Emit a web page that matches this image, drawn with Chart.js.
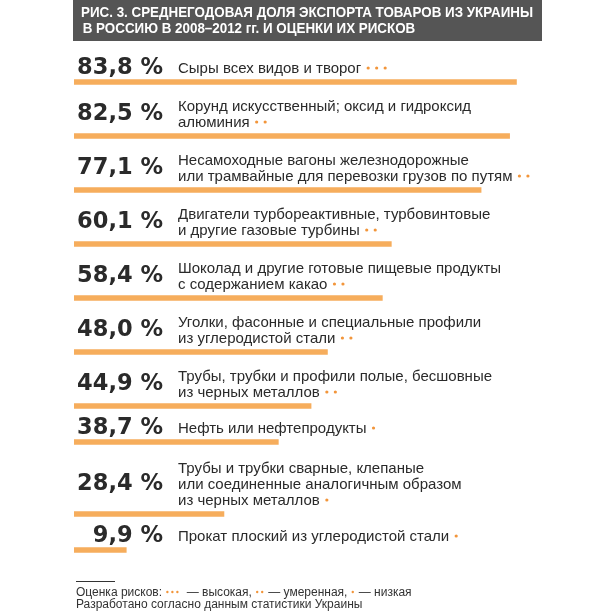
<!DOCTYPE html>
<html>
<head>
<meta charset="utf-8">
<script src="https://cdn.jsdelivr.net/npm/chart.js@4.4.0/dist/chart.umd.min.js"></script>
<style>
html,body{margin:0;padding:0;background:#fff;}
canvas{display:block;}
</style>
</head>
<body>
<canvas id="c" width="614" height="614"></canvas>
<script>
// ---- data ----
const titleLines = [
  'РИС. 3. СРЕДНЕГОДОВАЯ ДОЛЯ ЭКСПОРТА ТОВАРОВ ИЗ УКРАИНЫ',
  ' В РОССИЮ В 2008–2012 гг. И ОЦЕНКИ ИХ РИСКОВ'
];
const values = [83.8, 82.5, 77.1, 60.1, 58.4, 48.0, 44.9, 38.7, 28.4, 9.9];
const categories = [
  ['Сыры всех видов и творог'],
  ['Корунд искусственный; оксид и гидроксид', 'алюминия'],
  ['Несамоходные вагоны железнодорожные', 'или трамвайные для перевозки грузов по путям'],
  ['Двигатели турбореактивные, турбовинтовые', 'и другие газовые турбины'],
  ['Шоколад и другие готовые пищевые продукты', 'с содержанием какао'],
  ['Уголки, фасонные и специальные профили', 'из углеродистой стали'],
  ['Трубы, трубки и профили полые, бесшовные', 'из черных металлов'],
  ['Нефть или нефтепродукты'],
  ['Трубы и трубки сварные, клепаные', 'или соединенные аналогичным образом', 'из черных металлов'],
  ['Прокат плоский из углеродистой стали']
];
const riskLevels = [3, 2, 2, 2, 2, 2, 2, 1, 1, 1];
const legendPrefix = 'Оценка рисков:';
const legendDots = [3, 2, 1];
const legendLabels = ['высокая,', 'умеренная,', 'низкая'];
const sourceNote = 'Разработано согласно данным статистики Украины';

// ---- derived ----
// row position on a linear index axis: each row takes (its text lines + 1) units
const rowPos = [];
let acc = 0;
categories.forEach(lines => { acc += lines.length + 1; rowPos.push(acc); });
const fmt = v => v.toFixed(1).replace('.', ',') + ' %';

const ORANGE_BAR = '#f6ad5c';
const ORANGE_DOT = '#f2953a';
const TEXT = '#2a2a2a';
const LABEL_FONT = '15px "Liberation Sans", Arial, sans-serif';
const NUM_FONT = 'bold 22.5px "DejaVu Sans", sans-serif';

function dots(ctx, x, y, n, gap, r) {
  ctx.fillStyle = ORANGE_DOT;
  for (let k = 0; k < n; k++) {
    ctx.beginPath();
    ctx.arc(x + k * gap, y, r, 0, Math.PI * 2);
    ctx.fill();
  }
  return x + (n - 1) * gap;
}

const textPlugin = {
  id: 'texts',
  afterDatasetsDraw(chart) {
    const ctx = chart.ctx;
    const meta = chart.getDatasetMeta(0);
    const left = chart.chartArea.left;
    ctx.save();
    // title box
    ctx.fillStyle = '#555555';
    ctx.fillRect(left - 1, 0, 469, 41);
    ctx.fillStyle = '#ffffff';
    ctx.font = 'bold 15px "Liberation Sans", Arial, sans-serif';
    ctx.textAlign = 'left';
    ctx.textBaseline = 'alphabetic';
    ctx.fillText(titleLines[0], left + 7, 17, 452);
    ctx.fillText(titleLines[1], left + 5, 33, 452 * ctx.measureText(titleLines[1]).width / ctx.measureText(titleLines[0]).width);

    meta.data.forEach((bar, i) => {
      const lines = categories[i];
      const n = lines.length;
      const lastBase = bar.y - 9;
      const lh = 16;
      // number
      ctx.fillStyle = TEXT;
      ctx.font = NUM_FONT;
      ctx.textAlign = 'right';
      ctx.fillText(fmt(values[i]), left + 89, bar.y - 8 - 8 * (n - 1));
      // label
      ctx.font = LABEL_FONT;
      ctx.textAlign = 'left';
      lines.forEach((ln, j) => {
        ctx.fillStyle = TEXT;
        ctx.fillText(ln, left + 104, lastBase - (n - 1 - j) * lh);
      });
      const w = ctx.measureText(lines[n - 1]).width;
      dots(ctx, left + 104 + w + 7, lastBase - 5, riskLevels[i], 8.5, 1.6);
    });

    // footer
    ctx.strokeStyle = '#333';
    ctx.lineWidth = 1;
    ctx.beginPath();
    ctx.moveTo(left + 2, 581.5);
    ctx.lineTo(left + 41, 581.5);
    ctx.stroke();
    ctx.font = '12px "Liberation Sans", Arial, sans-serif';
    ctx.textAlign = 'left';
    let x = left + 2;
    const yb = 596;
    ctx.fillStyle = '#333';
    ctx.fillText(legendPrefix, x, yb);
    x += ctx.measureText(legendPrefix + ' ').width + 2;
    legendDots.forEach((nd, k) => {
      const end = dots(ctx, x, yb - 4, nd, 5, 1.2);
      x = end + 6;
      ctx.fillStyle = '#333';
      const t = (k === 0 ? ' ' : '') + '— ' + legendLabels[k] + ' ';
      ctx.fillText(t, x, yb);
      x += ctx.measureText(t).width + 2;
    });
    ctx.fillText(sourceNote, left + 2, 608);
    ctx.restore();
  }
};

new Chart(document.getElementById('c'), {
  type: 'bar',
  data: {
    datasets: [{
      data: values.map((v, i) => ({ x: v, y: rowPos[i] })),
      backgroundColor: ORANGE_BAR,
      borderWidth: 0,
      barThickness: 5
    }]
  },
  options: {
    indexAxis: 'y',
    responsive: false,
    animation: false,
    layout: { padding: { left: 74, right: 12, top: 46, bottom: 28 } },
    scales: {
      x: { type: 'linear', min: 0, max: 100, display: false },
      y: { type: 'linear', min: 0, max: 30, reverse: true, offset: false, display: false }
    },
    plugins: { legend: { display: false }, tooltip: { enabled: false } }
  },
  plugins: [textPlugin]
});
</script>
</body>
</html>
